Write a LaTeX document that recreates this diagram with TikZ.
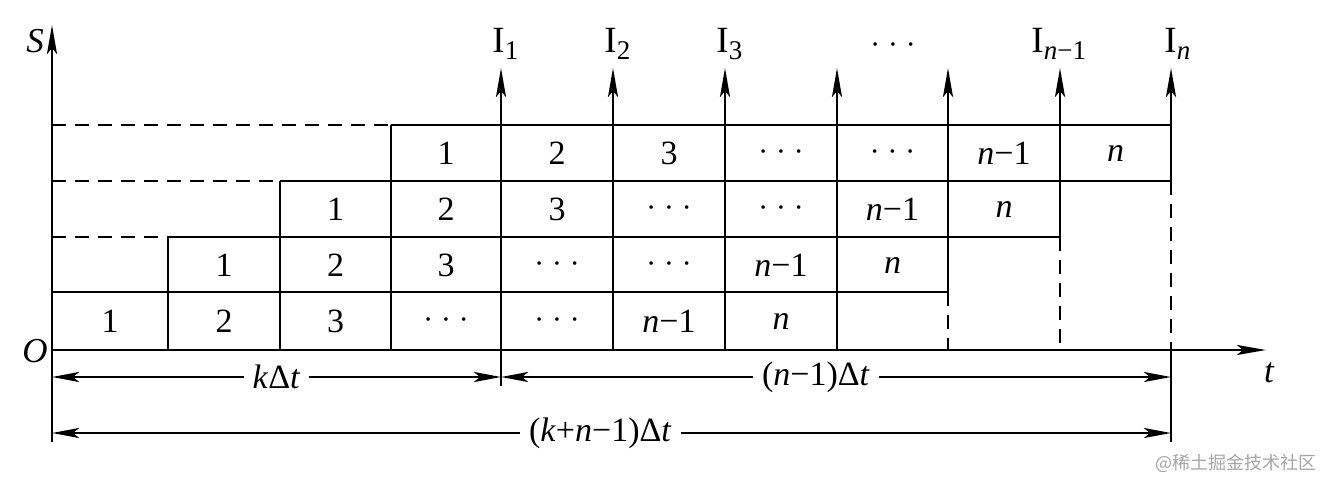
\documentclass[tikz,border=0pt]{standalone}
\usepackage{fontspec}
\setmainfont{Liberation Serif}
\newfontfamily\cjk{Noto Sans CJK SC}
\usetikzlibrary{arrows.meta,calc}
\newcommand\subfont{\fontsize{27}{30}\selectfont}
\newcommand\threedots{{\fontsize{15}{15}\selectfont •\hspace{12.5pt}•\hspace{12.5pt}•}}
\begin{document}
\begin{tikzpicture}[x=1pt,y=-1pt, line width=2.9pt,
  ar/.style={-{Stealth[length=29pt,width=10pt,inset=6pt]}},
  dimar/.style={{Stealth[length=27pt,width=10pt,inset=6pt]}-{Stealth[length=27pt,width=10pt,inset=6pt]}},
  dsh/.style={dash pattern=on 14pt off 9pt},
  cell/.style={font=\fontsize{34}{40}\selectfont, inner sep=0pt},
  lab/.style={font=\fontsize{37}{42}\selectfont, inner sep=0pt},
  axlab/.style={font=\fontsize{35}{40}\selectfont\itshape, inner sep=0pt},
  dimlab/.style={font=\fontsize{34}{40}\selectfont, fill=white, inner xsep=9pt, inner ysep=0pt}]
\useasboundingbox[fill=white] (0,0) rectangle (1322,479);
\foreach \n/\x in {0/52,1/168,2/280,3/391,4/501,5/613,6/725,7/837,8/948,9/1060,10/1171}{
  \coordinate (c\n) at (\x,0);
}
% axes
\coordinate (O) at (52,350);
\coordinate (Stop) at (52,25);
\coordinate (Tend) at (1266,350);
\draw[ar] (O) -- (Stop);
\draw[ar] (O) -- (Tend);
\node[axlab] (S) at (35,41) {S};
\node[axlab] (Olab) at (35,351) {O};
\node[axlab] (tlab) at (1269,373) {t};
% horizontal row lines
\draw[dsh] (52,125) -- (391,125);
\draw (391,125) -- (1171,125);
\draw[dsh] (52,181) -- (280,181);
\draw (280,181) -- (1171,181);
\draw[dsh] (52,237) -- (168,237);
\draw (168,237) -- (1060,237);
\draw (52,292) -- (948,292);
% vertical separators
\draw (168,237) -- (168,350);
\draw (280,181) -- (280,350);
\draw (391,125) -- (391,350);
% output arrows
\foreach \x in {501,613,725,837}{
  \draw[ar] (\x,350) -- (\x,68);
}
\draw[ar] (948,292) -- (948,68);
\draw[dsh] (948,292) -- (948,350);
\draw[ar] (1060,237) -- (1060,68);
\draw[dsh] (1060,237) -- (1060,350);
\draw[ar] (1171,181) -- (1171,68);
\draw[dsh] (1171,181) -- (1171,350);
% extension lines below axis
\coordinate (B0) at (52,442);
\coordinate (Bk) at (501,386);
\coordinate (Bn) at (1171,442);
\draw (O) -- (B0);
\draw (501,350) -- (Bk);
\draw (1171,350) -- (Bn);
% dimensions
\draw[dimar] (52,377) -- (501,377) node[midway, dimlab] (dk) {\textit{k}Δ\textit{t}};
\draw[dimar] (501,377) -- (1171,377) node[pos=0.47, dimlab] (dn) {(\textit{n}−1)Δ\textit{t}};
\draw[dimar] (52,433) -- (1171,433) node[pos=0.49, dimlab] (dkn) {(\textit{k}+\textit{n}−1)Δ\textit{t}};
% labels of outputs
\node[lab, anchor=base west] (I1) at (491,52) {I\raisebox{-7pt}{\subfont 1}};
\node[lab, anchor=base west] (I2) at (603,52) {I\raisebox{-7pt}{\subfont 2}};
\node[lab, anchor=base west] (I3) at (715,52) {I\raisebox{-7pt}{\subfont 3}};
\node[lab] (Idots) at (893,46) {\threedots};
\node[lab, anchor=base west] (In1) at (1030,52) {I\raisebox{-7pt}{\subfont\itshape n\upshape −1}};
\node[lab, anchor=base west] (In) at (1163,52) {I\raisebox{-7pt}{\subfont\itshape n}};
% cell texts
\foreach \r/\y/\s in {1/321/0,2/265/1,3/209/2,4/153/3}{
  \foreach \t [count=\i from 0] in {1,2,3,\threedots,\threedots,\textit{n}−1,\textit{n}}{
    \pgfmathtruncatemacro{\a}{\s+\i}
    \pgfmathtruncatemacro{\b}{\s+\i+1}
    \node[cell] (t\r-\i) at ($(c\a)!0.5!(c\b) + (0,\y)$) {\t};
  }
}
% watermark
\node[font=\cjk\fontsize{18}{20}\selectfont, text=black!35, anchor=east, inner sep=0pt] (wm) at (1318,463) {@稀土掘金技术社区};
\end{tikzpicture}
\end{document}
